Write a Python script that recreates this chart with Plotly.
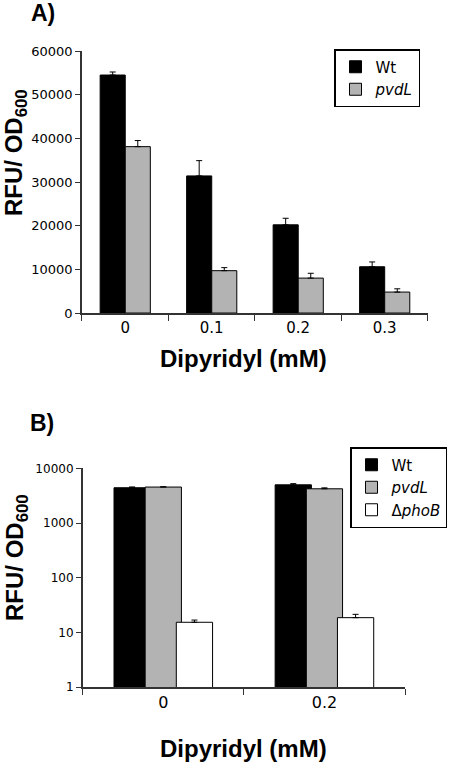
import plotly.graph_objects as go

# Panel A data
cats_a = ["0", "0.1", "0.2", "0.3"]
wt_a = [54500, 31400, 20200, 10600]
wt_a_err = [700, 3500, 1500, 1100]
pvdl_a = [38100, 9700, 8000, 4800]
pvdl_a_err = [1400, 700, 1100, 750]

# Panel B data
cats_b = ["0", "0.2"]
wt_b = [4420, 5000]
wt_b_err = [150, 250]
pvdl_b = [4550, 4230]
pvdl_b_err = [60, 170]
phob_b = [15.4, 18.7]
phob_b_err = [1.5, 2.8]
ticks_b = [1, 10, 100, 1000, 10000]

TICKF = "DejaVu Sans"
TITLEF = "Liberation Sans"
AX = "#333333"

fig = go.Figure()

def bar(x, y, err, name, color, xa, ya, leg, width=None):
    return go.Bar(
        x=x, y=y, name=name, xaxis=xa, yaxis=ya, legend=leg, width=width,
        marker=dict(color=color, line=dict(color="black", width=1)),
        error_y=dict(type="data", symmetric=False, array=err,
                     arrayminus=[0] * len(err), color="black", thickness=1, width=3),
    )

fig.add_trace(bar(cats_a, wt_a, wt_a_err, "Wt", "black", "x", "y", "legend"))
fig.add_trace(bar(cats_a, pvdl_a, pvdl_a_err, "<i>pvdL</i>", "#b3b3b3", "x", "y", "legend"))
fig.add_trace(bar(cats_b, wt_b, wt_b_err, "Wt", "black", "x2", "y2", "legend2", 0.225))
fig.add_trace(bar(cats_b, pvdl_b, pvdl_b_err, "<i>pvdL</i>", "#b3b3b3", "x2", "y2", "legend2", 0.225))
fig.add_trace(bar(cats_b, phob_b, phob_b_err, "Δ<i>phoB</i>", "white", "x2", "y2", "legend2", 0.225))

fig.update_layout(
    width=450, height=765,
    margin=dict(l=0, r=0, t=0, b=0, autoexpand=False),
    paper_bgcolor="white", plot_bgcolor="white",
    barmode="group",
    xaxis=dict(domain=[0.1822, 0.951], anchor="y", type="category",
               showline=True, linecolor=AX, linewidth=1.5,
               ticks="outside", tickson="boundaries", ticklen=6, tickcolor=AX,
               tickfont=dict(family=TICKF, size=15, color="black"), showgrid=False,
               automargin=False),
    yaxis=dict(domain=[0.5908, 0.9333], anchor="x", range=[0, 60000],
               tickvals=[0, 10000, 20000, 30000, 40000, 50000, 60000],
               ticktext=["0", "10000", "20000", "30000", "40000", "50000", "60000"],
               showline=True, linecolor=AX, linewidth=1.5,
               ticks="outside", ticklen=5, tickcolor=AX,
               tickfont=dict(family=TICKF, size=13, color="black"),
               showgrid=False, zeroline=False, automargin=False),
    xaxis2=dict(domain=[0.1838, 0.9], anchor="y2", type="category",
                showline=True, linecolor=AX, linewidth=1.5,
                ticks="outside", tickson="boundaries", ticklen=6, tickcolor=AX,
                tickfont=dict(family=TICKF, size=16, color="black"), showgrid=False,
                automargin=False),
    yaxis2=dict(domain=[0.1016, 0.3878], anchor="x2", type="log", range=[0, 4],
                tickvals=ticks_b, ticktext=[str(t) for t in ticks_b],
                showline=True, linecolor=AX, linewidth=1.5,
                ticks="outside", ticklen=5, tickcolor=AX,
                tickfont=dict(family=TICKF, size=12, color="black"),
                showgrid=False, zeroline=False, automargin=False),
    bargap=0.42, bargroupgap=0,
    legend=dict(x=420 / 450, y=1 - 49 / 765, xanchor="right", yanchor="top",
                bordercolor="black", borderwidth=1.5, bgcolor="white",
                font=dict(family=TICKF, size=15, color="black"),
                itemwidth=30, tracegroupgap=2),
    legend2=dict(x=447 / 450, y=1 - 447 / 765, xanchor="right", yanchor="top",
                 bordercolor="black", borderwidth=1.5, bgcolor="white",
                 font=dict(family=TICKF, size=15, color="black"),
                 itemwidth=30, tracegroupgap=0),
)

annots = [
    dict(text="<b>A)</b>", x=43, y=13, size=23),
    dict(text="<b>B)</b>", x=42, y=423, size=23),
    dict(text="<b>Dipyridyl (mM)</b>", x=243, y=358, size=24),
    dict(text="<b>Dipyridyl (mM)</b>", x=243, y=748, size=24),
]
for a in annots:
    fig.add_annotation(text=a["text"], xref="paper", yref="paper",
                       x=a["x"] / 450, y=1 - a["y"] / 765, xanchor="center", yanchor="middle",
                       showarrow=False, font=dict(family=TITLEF, size=a["size"], color="black"))
for yc in [153, 558]:
    fig.add_annotation(text="<b>RFU/ OD<sub>600</sub></b>", xref="paper", yref="paper",
                       x=16 / 450, y=1 - yc / 765, xanchor="center", yanchor="middle",
                       textangle=-90, showarrow=False,
                       font=dict(family=TITLEF, size=24, color="black"))

fig.write_html("out.html", config={"displayModeBar": False},
               post_script="document.body.style.margin='0px';document.body.style.overflow='hidden';")
